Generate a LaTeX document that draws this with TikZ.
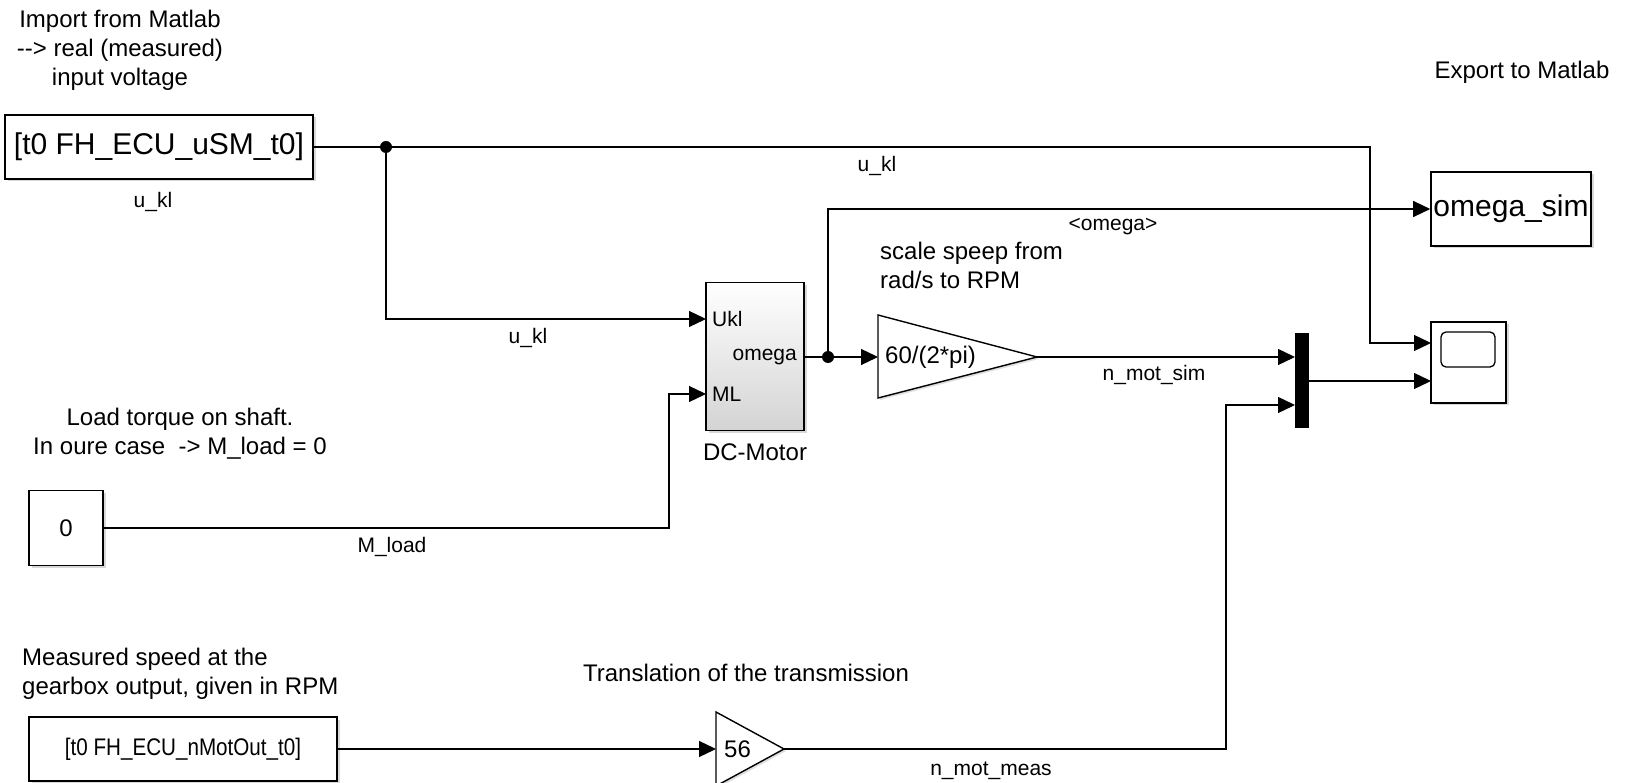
\documentclass[tikz,border=0pt]{standalone}
\usepackage{fontspec}
\setmainfont{Liberation Sans}
\usetikzlibrary{arrows.meta,shadows,calc}
\newcommand\fnote{\fontsize{24}{29}\selectfont}
\newcommand\fbig{\fontsize{30}{36}\selectfont}
\newcommand\flbl{\fontsize{21}{25}\selectfont}
\newcommand\fgain{\fontsize{24}{29}\selectfont}
\tikzset{
  blk/.style={draw, line width=1.6pt, fill=white, inner sep=0pt,
    drop shadow={shadow xshift=2.5pt, shadow yshift=-2.5pt, fill=black!30}},
  gainshape/.style={draw, line width=1.4pt, fill=white, line join=miter,
    drop shadow={shadow xshift=2pt, shadow yshift=-2pt, fill=black!25}},
  wire/.style={line width=1.3pt},
  sig/.style={line width=1.3pt, -{Triangle[length=17pt,width=16pt]}},
  note/.style={font=\fnote, inner sep=0pt},
  lbl/.style={font=\flbl, inner sep=0pt},
  jdot/.style={circle, fill=black, inner sep=0pt, minimum size=12pt},
}
\begin{document}
\begin{tikzpicture}[x=1pt,y=-1pt]
\useasboundingbox (0,0) rectangle (1626,783);
\clip (0,0) rectangle (1626,783);
\fill[white] (0,0) rectangle (1626,783);

% ---- annotations
\node[note, align=center] (imp) at (120,50) {Import from Matlab\\-{}-> real (measured)\\input voltage};
\node[note] (exp) at (1522,72) {Export to Matlab};
\node[note, align=center] (load) at (180,434) {Load torque on shaft.\\In oure case\ \ -> M\_load = 0};
\node[note, align=left, anchor=west] (meas) at (22,674) {Measured speed at the\\gearbox output, given in RPM};
\node[note] (trans) at (746,673) {Translation of the transmission};
\node[note, align=left, anchor=west] (scale) at (880,265) {scale speep from\\rad/s to RPM};

% ---- blocks
\node[blk, minimum width=308pt, minimum height=64pt, font=\fbig] (src) at (159,147) {[t0 FH\_ECU\_uSM\_t0]};
\node[lbl] (srclbl) at (153,202) {u\_kl};

\node[blk, minimum width=74pt, minimum height=75pt, font=\fnote] (const) at (66,528) {0};

\node[blk, minimum width=98pt, minimum height=148pt, top color=white, bottom color=black!17] (motor) at (755,356.5) {};
\node[lbl, anchor=west] (pUkl) at (712,319) {Ukl};
\node[lbl, anchor=east] (pOm) at (797,357) {omega};
\node[lbl, anchor=west] (pML) at (712,394) {ML};
\node[note] (motlbl) at (755,452) {DC-Motor};

\node[blk, minimum width=160pt, minimum height=74pt, font=\fbig] (osim) at (1511,209) {omega\_sim};

\node[blk, minimum width=75pt, minimum height=81pt] (scope) at (1468.5,362.5) {};
\node[draw, line width=1.3pt, rounded corners=5pt, minimum width=54pt, minimum height=35pt, inner sep=0pt] (screen) at (1468,349.5) {};

\node[fill=black, minimum width=14pt, minimum height=95pt, inner sep=0pt] (mux) at (1302,380.5) {};

\node[blk, minimum width=308pt, minimum height=64pt] (src2) at (183,749)
  {\scalebox{0.86}[1]{\fnote [t0 FH\_ECU\_nMotOut\_t0]}};

% gain 1
\coordinate (g1in) at (878,357);
\coordinate (g1out) at (1037,357);
\draw[gainshape] ($(g1in)+(0,-42)$) -- (g1out) -- ($(g1in)+(0,41)$) -- cycle;
\node[font=\fgain, anchor=west, inner sep=0pt] (g1txt) at (885,357) {60/(2*pi)};

% gain 2
\coordinate (g2in) at (716,749);
\coordinate (g2out) at (784,749);
\draw[gainshape] ($(g2in)+(0,-37)$) -- (g2out) -- ($(g2in)+(0,37)$) -- cycle;
\node[font=\fgain, anchor=west, inner sep=0pt] (g2txt) at (724,749) {56};

% ---- ports and bends
\coordinate (mUkl) at (706,319);
\coordinate (mML) at (706,394);
\coordinate (mOm) at (804,357);
\coordinate (sIn1) at (1431,343);
\coordinate (sIn2) at (1431,381);
\coordinate (xIn1) at (1295,357);
\coordinate (xIn2) at (1295,405);
\coordinate (xOut) at (1309,381);
\coordinate (c1) at (1370,147);
\coordinate (k1) at (669,528);
\coordinate (k2) at (1226,749);

\node[jdot] (J1) at (386,147) {};
\node[jdot] (J2) at (828,357) {};

% ---- connectors
\draw[wire] (src.east) -- (J1.center);
\draw[sig] (J1.center) -- (c1) |- (sIn1);
\draw[sig] (J1.center) |- (mUkl);
\draw[sig] (const.east) -- (k1) |- (mML);
\draw[wire] (mOm) -- (J2.center);
\draw[sig] (J2.center) -- (g1in);
\draw[sig] (J2.center) |- (osim.west);
\draw[sig] (g1out) -- (xIn1);
\draw[sig] (xOut) -- (sIn2);
\draw[sig] (src2.east) -- (g2in);
\draw[sig] (g2out) -- (k2) |- (xIn2);

% ---- signal labels
\node[lbl] (l1) at (877,166) {u\_kl};
\node[lbl] (l2) at (528,338) {u\_kl};
\node[lbl] (l3) at (392,547) {M\_load};
\node[lbl] (l4) at (1113,227) {<omega>};
\node[lbl] (l5) at (1154,375) {n\_mot\_sim};
\node[lbl] (l6) at (991,771) {n\_mot\_meas};
\end{tikzpicture}
\end{document}
